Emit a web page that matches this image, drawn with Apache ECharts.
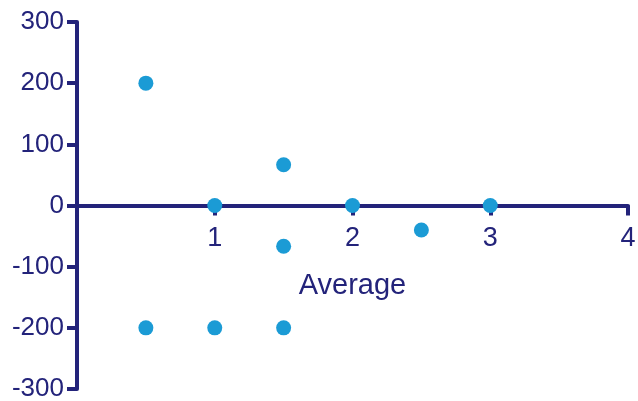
<!DOCTYPE html>
<html>
<head>
<meta charset="utf-8">
<script src="https://cdn.jsdelivr.net/npm/echarts@6/dist/echarts.min.js"></script>
<style>
  html, body { margin: 0; padding: 0; background: #ffffff; }
  #chart { width: 638px; height: 401px; }
</style>
</head>
<body>
<div id="chart"></div>
<script>
// Scatter of difference vs. average
const xValues = [0.5, 0.5, 1, 1, 1.5, 1.5, 1.5, 2, 2.5, 3];
const yValues = [200, -200, 0, -200, 66.7, -66.7, -200, 0, -40, 0];
const xTicks = [0, 1, 2, 3, 4];
const yTicks = [-300, -200, -100, 0, 100, 200, 300];

const axisColor = '#23237a';
const dotColor = '#1b9bd5';
const font = 'Liberation Sans, Arial, sans-serif';

const W = 638, H = 401;
const gridTop = 22, gridBottom = 12;
const yMin = yTicks[0], yMax = yTicks[yTicks.length - 1];
// the horizontal axis sits on y = 0: shift it up from the bottom edge of the grid
const plotH = H - gridTop - gridBottom;
const zeroShift = -plotH * (0 - yMin) / (yMax - yMin);

const chart = echarts.init(document.getElementById('chart'));
chart.setOption({
  animation: false,
  grid: { left: 77, right: 10, top: gridTop, bottom: gridBottom, containLabel: false, outerBoundsMode: 'none' },
  xAxis: {
    type: 'value',
    min: xTicks[0],
    max: xTicks[xTicks.length - 1],
    interval: 1,
    offset: zeroShift,
    name: 'Average',
    nameLocation: 'middle',
    nameGap: 66,
    nameTextStyle: { color: axisColor, fontSize: 29, fontFamily: font },
    axisLine: { onZero: false, lineStyle: { color: axisColor, width: 4 } },
    axisTick: { show: true, length: 10, lineStyle: { color: axisColor, width: 4 } },
    axisLabel: {
      color: axisColor, fontSize: 27, fontFamily: font, margin: 20,
      formatter: v => (v === 0 ? '' : String(v))
    },
    splitLine: { show: false }
  },
  yAxis: {
    type: 'value',
    min: yMin,
    max: yMax,
    interval: 100,
    axisLine: { show: true, onZero: false, lineStyle: { color: axisColor, width: 4 } },
    axisTick: { show: true, length: 10, lineStyle: { color: axisColor, width: 4 } },
    axisLabel: { color: axisColor, fontSize: 26, fontFamily: font, margin: 13 },
    splitLine: { show: false }
  },
  series: [{
    type: 'scatter',
    symbolSize: 15,
    itemStyle: { color: dotColor, opacity: 1 },
    data: xValues.map((x, i) => [x, yValues[i]])
  }]
});
</script>
</body>
</html>
